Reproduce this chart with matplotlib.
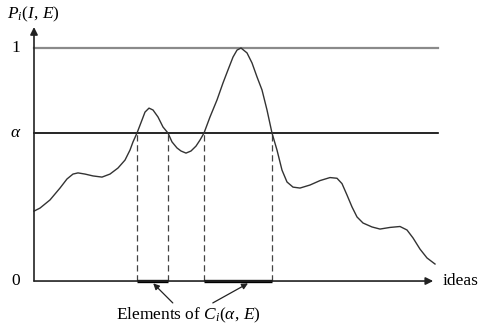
import matplotlib
matplotlib.use("Agg")
import matplotlib.pyplot as plt

plt.rcParams['font.family'] = ['Liberation Serif', 'DejaVu Serif']
plt.rcParams['mathtext.fontset'] = 'custom'
plt.rcParams['mathtext.rm'] = 'Liberation Serif'
plt.rcParams['mathtext.it'] = 'Liberation Serif:italic'

# curve P_i(I, E) over ideas
ideas = [0.0, 0.15, 0.4, 0.65, 0.825, 0.975, 1.1, 1.275, 1.475, 1.7,
         1.9, 2.1, 2.275, 2.4, 2.475, 2.575, 2.7, 2.775, 2.875, 2.975,
         3.1, 3.225, 3.35, 3.45, 3.575, 3.675, 3.8, 3.925, 4.05, 4.15,
         4.25, 4.4, 4.575, 4.725, 4.85, 4.975, 5.075, 5.175, 5.325, 5.45,
         5.575, 5.7, 5.825, 5.95, 6.075, 6.2, 6.325, 6.475, 6.65, 6.9,
         7.15, 7.4, 7.575, 7.7, 7.825, 7.95, 8.075, 8.225, 8.45, 8.65,
         8.9, 9.15, 9.325, 9.475, 9.65, 9.825, 10.025]
p = [0.300, 0.313, 0.348, 0.399, 0.438, 0.459, 0.464, 0.459, 0.451, 0.446,
     0.459, 0.485, 0.519, 0.562, 0.597, 0.635, 0.691, 0.725, 0.742, 0.734,
     0.704, 0.661, 0.635, 0.597, 0.571, 0.558, 0.549, 0.558, 0.579, 0.605,
     0.635, 0.704, 0.777, 0.850, 0.906, 0.961, 0.991, 1.000, 0.979, 0.936,
     0.876, 0.820, 0.734, 0.635, 0.562, 0.476, 0.425, 0.403, 0.399, 0.412,
     0.431, 0.444, 0.441, 0.418, 0.369, 0.318, 0.275, 0.249, 0.232, 0.223,
     0.230, 0.234, 0.219, 0.185, 0.137, 0.099, 0.073]

alpha = 0.635
crossings = [2.575, 3.35, 4.25, 5.95]
segments = [(2.575, 3.35), (4.25, 5.95)]

fig = plt.figure(figsize=(4.89, 3.26), dpi=100)
ax = fig.add_axes([0, 0, 1, 1])
ax.set_xlim(-0.85, 11.375)
ax.set_ylim(-0.193, 1.206)
ax.axis('off')

# reference lines
ax.plot([0, 10.1], [1, 1], color='#8a8a8a', lw=1.6)
ax.plot([0, 10.1], [alpha, alpha], color='black', lw=1.2)

# dashed drops
for c in crossings:
    ax.plot([c, c], [0, alpha], color='#444444', lw=0.9, dashes=(5, 3))

# curve
ax.plot(ideas, p, color='#333333', lw=1.0, solid_joinstyle='round')

# axes with arrows
ax.annotate('', xy=(0, 1.09), xytext=(0, 0),
            arrowprops=dict(arrowstyle='-|>', color='#222222', lw=1.2,
                            mutation_scale=11, shrinkA=0, shrinkB=0))
ax.annotate('', xy=(9.98, 0), xytext=(0, 0),
            arrowprops=dict(arrowstyle='-|>', color='#222222', lw=1.2,
                            mutation_scale=11, shrinkA=0, shrinkB=0))

# thick segments on x axis
for a, b in segments:
    ax.plot([a, b], [0, 0], color='black', lw=2.4, solid_capstyle='butt')

# labels
fs = 12.5
ax.text(-0.45, 0, '0', fontsize=fs, ha='center', va='center')
ax.text(-0.45, alpha, r'$\alpha$', fontsize=fs, ha='center', va='center')
ax.text(-0.45, 1.0, '1', fontsize=fs, ha='center', va='center')
ax.text(-0.67, 1.145, r'$P_i(I,\,E)$', fontsize=fs, ha='left', va='center')
ax.text(10.22, 0, 'ideas', fontsize=fs, ha='left', va='center')
ax.text(3.85, -0.146, r'Elements of $C_i(\alpha,\,E)$', fontsize=fs,
        ha='center', va='center')

ax.annotate('', xy=(2.98, -0.01), xytext=(3.47, -0.094),
            arrowprops=dict(arrowstyle='-|>', color='#222222', lw=0.9,
                            mutation_scale=9, shrinkA=0, shrinkB=0))
ax.annotate('', xy=(5.35, -0.01), xytext=(4.47, -0.094),
            arrowprops=dict(arrowstyle='-|>', color='#222222', lw=0.9,
                            mutation_scale=9, shrinkA=0, shrinkB=0))

plt.savefig('out.png', dpi=100)
